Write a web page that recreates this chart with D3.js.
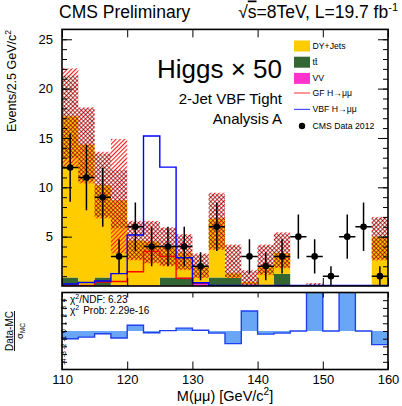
<!DOCTYPE html>
<html>
<head>
<meta charset="utf-8">
<script src="https://cdn.jsdelivr.net/npm/d3@7"></script>
<style>
  body { margin: 0; background: #fff; }
  svg { display: block; }
  text { font-family: "Liberation Sans", Arial, Helvetica, sans-serif; }
</style>
</head>
<body>
<svg id="chart" width="402" height="406"></svg>
<script>
// ---- binning: 20 bins of 2.5 GeV between 110 and 160 GeV ----
const massRange = [110, 160];
const binWidth = 2.5;

// ---- observed events per bin ----
const dataCounts = [12, 11, 9, 3, 6, 4, 4, 4, 2, 6, 0, 3, 2, 3, 5, 3, 1, 5, 6, 1];

// ---- background expectations (stacked: VV, ttbar, DY+Jets) ----
const vvYield   = [0.05, 0.05, 0.05, 0.1, 0.08, 0.08, 0.05, 0.05, 0.2, 0.05, 0.1, 0.15, 0.05, 0.05, 0, 0.05, 0, 0.02, 0, 0];
const ttbarYield = [0.8, 0.05, 0.8, 0, 0, 0, 0.8, 0.8, 0.2, 0.8, 0.7, 0, 0, 1.2, 0, 0, 0, 0, 0, 0];
const dyYield   = [16.35, 14.25, 9.35, 8.6, 4.52, 4.42, 3.15, 2.55, 1.6, 6.0, 0.5, 0.25, 1.95, 2.1, 0, 0, 0, 0, 0, 5.0];

// ---- MC uncertainty bands (outer: total, inner: statistical) ----
const bandOuterLo = [12.1, 10.4, 6.85, 3.3, 2.6, 2.3, 2.0, 1.6, 0.8, 3.65, 0.8, 0, 1.1, 1.8, 0, 0, 0, 0, 0, 2.6];
const bandOuterHi = [22.05, 18.1, 13.6, 14.9, 6.6, 6.6, 5.95, 5.25, 3.3, 9.45, 4.2, 1.6, 4.2, 5.44, 0, 0.3, 0, 0.1, 0, 7.0];
const bandInnerLo = [13.0, 10.6, 7.0, 5.85, 2.7, 2.4, 2.1, 1.7, 0.9, 3.8, 0.9, 0.05, 1.2, 1.9, 0, 0, 0, 0, 0, 2.7];
const bandInnerHi = [21.3, 18.0, 13.4, 11.75, 6.5, 6.5, 5.85, 5.15, 3.2, 9.3, 4.1, 1.5, 4.1, 5.3, 0, 0.25, 0, 0.08, 0, 6.9];

// ---- Higgs signal templates (scaled x50) ----
const ggfSignal = [0.05, 0.05, 0.4, 0.45, 1.45, 3.5, 3.0, 0.78, 0.3, 0.03, 0.03, 0.03, 0.03, 0.03, 0.03, 0.03, 0.03, 0.03, 0.03, 0.03];
const vbfSignal = [0.2, 0.35, 0.5, 1.25, 5.17, 15.2, 12.05, 2.87, 0.33, 0.06, 0.06, 0.06, 0.06, 0.06, 0.06, 0.06, 0.06, 0.06, 0.06, 0.06];

// ---- pull (Data-MC)/sigma_MC per bin ----
const pullValues = [-1.0, -0.8, -0.36, -0.9, 0.75, -0.23, 0.05, 0.37, 0.1, -0.27, -1.64, 2.6, -0.4, -0.27, 0, 9, 0, 9, 0, -1.77];

// ---- axis ticks ----
const yMajorTicks = [5, 10, 15, 20, 25];
const xMajorTicks = [110, 120, 130, 140, 150, 160];
const pullTicks = [4, 3, 2, 1, 0, -1, -2, -3, -4];

// ---- legend entries ----
const legendFills = [
  { label: "DY+Jets", color: "#ffcc00" },
  { label: "tt\u0304", color: "#336633" },
  { label: "VV", color: "#ff33cc" }
];
const legendLines = [
  { label: "GF H\u2192\u03bc\u03bc", color: "#ff0000" },
  { label: "VBF H\u2192\u03bc\u03bc", color: "#0000ff" }
];

const font = '"Liberation Sans", Arial, Helvetica, sans-serif';
const svg = d3.select("#chart");

const plotL = 62, plotR = 388;
const mainTop = 29.4, mainBot = 286;
const pullTop = 292.5, pullBot = 369.5;

const x = d3.scaleLinear().domain(massRange).range([plotL, plotR]);
const y = d3.scaleLinear().domain([0, 26]).range([mainBot, mainTop]);
const yp = d3.scaleLinear().domain([-5, 5]).range([pullBot, pullTop]);

const nBins = dataCounts.length;
const bins = d3.range(nBins).map(i => {
  const lo = massRange[0] + i * binWidth;
  const vv = vvYield[i], tt = ttbarYield[i], dy = dyYield[i];
  return {
    i, lo, hi: lo + binWidth, mid: lo + binWidth / 2,
    vv, tt, dy, n: dataCounts[i],
    s0: 0, s1: vv, s2: vv + tt, s3: vv + tt + dy
  };
});

// ---- patterns for the uncertainty bands ----
const defs = svg.append("defs");
const pRed = defs.append("pattern").attr("id", "hatchRed")
  .attr("patternUnits", "userSpaceOnUse").attr("width", 3).attr("height", 3)
  .attr("patternTransform", "rotate(45)");
pRed.append("rect").attr("width", 1.1).attr("height", 3).attr("fill", "#ff1a1a");
const pBlk = defs.append("pattern").attr("id", "hatchBlack")
  .attr("patternUnits", "userSpaceOnUse").attr("width", 3).attr("height", 3)
  .attr("patternTransform", "rotate(-45)");
pBlk.append("rect").attr("width", 0.9).attr("height", 3).attr("fill", "#200000").attr("opacity", 0.65);

defs.append("clipPath").attr("id", "mainClip").append("rect")
  .attr("x", plotL).attr("y", mainTop).attr("width", plotR - plotL).attr("height", mainBot - mainTop);
defs.append("clipPath").attr("id", "pullClip").append("rect")
  .attr("x", plotL).attr("y", pullTop).attr("width", plotR - plotL).attr("height", pullBot - pullTop);

// ---- main panel ----
const main = svg.append("g").attr("clip-path", "url(#mainClip)");

function stepPoints(lowerKey, upperKey) {
  const pts = [];
  bins.forEach(b => {
    pts.push({ x: b.lo, y0: b[lowerKey], y1: b[upperKey] });
    pts.push({ x: b.hi, y0: b[lowerKey], y1: b[upperKey] });
  });
  return pts;
}
const stepArea = d3.area().x(d => x(d.x)).y0(d => y(d.y0)).y1(d => y(d.y1));

const layers = [
  { lo: "s0", hi: "s1", color: "#ff33cc" },
  { lo: "s1", hi: "s2", color: "#336633" },
  { lo: "s2", hi: "s3", color: "#ffcc00" }
];
layers.forEach(l => {
  main.append("path").attr("d", stepArea(stepPoints(l.lo, l.hi))).attr("fill", l.color);
});

// uncertainty bands
function drawBand(loArr, hiArr, fill) {
  main.append("g").selectAll("rect")
    .data(bins.filter(b => hiArr[b.i] > loArr[b.i]))
    .join("rect")
    .attr("x", b => x(b.lo))
    .attr("width", b => x(b.hi) - x(b.lo))
    .attr("y", b => y(hiArr[b.i]))
    .attr("height", b => y(loArr[b.i]) - y(hiArr[b.i]))
    .attr("fill", fill);
}
drawBand(bandOuterLo, bandOuterHi, "url(#hatchRed)");
drawBand(bandInnerLo, bandInnerHi, "url(#hatchBlack)");

// signal histograms
function histLine(vals) {
  const pts = [[x(massRange[0]), y(0)]];
  bins.forEach(b => { pts.push([x(b.lo), y(vals[b.i])]); pts.push([x(b.hi), y(vals[b.i])]); });
  pts.push([x(massRange[1]), y(0)]);
  return d3.line()(pts);
}
main.append("path").attr("d", histLine(ggfSignal)).attr("fill", "none")
  .attr("stroke", "#ff0000").attr("stroke-width", 1.4);
main.append("path").attr("d", histLine(vbfSignal)).attr("fill", "none")
  .attr("stroke", "#0000ff").attr("stroke-width", 1.4);

// data points with Poisson errors
const dataBins = bins.filter(b => b.n > 0);
const dg = main.append("g");
dg.selectAll("line.v").data(dataBins).join("line").attr("class", "v")
  .attr("x1", b => x(b.mid)).attr("x2", b => x(b.mid))
  .attr("y1", b => y(b.n + Math.sqrt(b.n))).attr("y2", b => y(Math.max(0, b.n - Math.sqrt(b.n))))
  .attr("stroke", "#000").attr("stroke-width", 1.5);
dg.selectAll("line.h").data(dataBins).join("line").attr("class", "h")
  .attr("x1", b => x(b.lo)).attr("x2", b => x(b.hi))
  .attr("y1", b => y(b.n)).attr("y2", b => y(b.n))
  .attr("stroke", "#000").attr("stroke-width", 1.5);
dg.selectAll("circle").data(dataBins).join("circle")
  .attr("cx", b => x(b.mid)).attr("cy", b => y(b.n)).attr("r", 3.3).attr("fill", "#000");

// ---- main axes (ticks point inwards) ----
function styleAxis(g) {
  g.select(".domain").remove();
  g.selectAll(".tick line").attr("stroke", "#000").attr("stroke-width", 1);
  g.selectAll(".tick text").attr("fill", "#000").style("font-family", font);
}
svg.append("g").attr("transform", `translate(${plotL},0)`)
  .call(d3.axisLeft(y).tickValues(yMajorTicks).tickSizeInner(-10).tickSizeOuter(0).tickPadding(9))
  .call(styleAxis).call(g => g.selectAll(".tick text").style("font-size", "13px"));
svg.append("g").attr("transform", `translate(${plotL},0)`)
  .call(d3.axisLeft(y).tickValues(d3.range(1, 26)).tickSize(-5).tickFormat(""))
  .call(styleAxis);
svg.append("g").attr("transform", `translate(${plotR},0)`)
  .call(d3.axisRight(y).tickValues(yMajorTicks).tickSize(-10).tickFormat(""))
  .call(styleAxis);
svg.append("g").attr("transform", `translate(${plotR},0)`)
  .call(d3.axisRight(y).tickValues(d3.range(1, 26)).tickSize(-5).tickFormat(""))
  .call(styleAxis);
svg.append("g").attr("transform", `translate(0,${mainBot})`)
  .call(d3.axisBottom(x).tickValues(xMajorTicks).tickSize(-8).tickFormat(""))
  .call(styleAxis);
svg.append("g").attr("transform", `translate(0,${mainTop})`)
  .call(d3.axisTop(x).tickValues(xMajorTicks).tickSize(-8).tickFormat(""))
  .call(styleAxis);
svg.append("rect").attr("x", plotL).attr("y", mainTop).attr("width", plotR - plotL)
  .attr("height", mainBot - mainTop).attr("fill", "none").attr("stroke", "#000").attr("stroke-width", 1.6);

// ---- pull panel ----
const pull = svg.append("g").attr("clip-path", "url(#pullClip)");
const pullPts = [];
bins.forEach(b => {
  pullPts.push({ x: b.lo, v: pullValues[b.i] });
  pullPts.push({ x: b.hi, v: pullValues[b.i] });
});
pull.append("path")
  .attr("d", d3.area().x(d => x(d.x)).y0(yp(0)).y1(d => yp(d.v))(pullPts))
  .attr("fill", "#6aa6f6");
pull.append("path")
  .attr("d", d3.line().x(d => x(d.x)).y(d => yp(d.v))(
    [{ x: massRange[0], v: 0 }, ...pullPts, { x: massRange[1], v: 0 }]))
  .attr("fill", "none").attr("stroke", "#1f3ff0").attr("stroke-width", 1.4);

svg.append("g").attr("transform", `translate(${plotL},0)`)
  .call(d3.axisLeft(yp).tickValues(pullTicks).tickSize(-5).tickFormat(""))
  .call(styleAxis);
svg.append("g").attr("transform", `translate(${plotR},0)`)
  .call(d3.axisRight(yp).tickValues(pullTicks).tickSize(-5).tickFormat(""))
  .call(styleAxis);
svg.append("g").selectAll("text").data(pullTicks).join("text")
  .attr("transform", d => `translate(66,${yp(d)}) rotate(-90)`)
  .attr("text-anchor", "middle").attr("font-size", 7).attr("fill", "#000")
  .text(d => d);
svg.append("g").attr("transform", `translate(0,${pullBot})`)
  .call(d3.axisBottom(x).tickValues(xMajorTicks).tickSizeInner(-8).tickSizeOuter(0).tickPadding(5))
  .call(styleAxis).call(g => g.selectAll(".tick text").style("font-size", "13px"));
svg.append("g").attr("transform", `translate(0,${pullTop})`)
  .call(d3.axisTop(x).tickValues(xMajorTicks).tickSize(-5).tickFormat(""))
  .call(styleAxis);
svg.append("rect").attr("x", plotL).attr("y", pullTop).attr("width", plotR - plotL)
  .attr("height", pullBot - pullTop).attr("fill", "none").attr("stroke", "#000").attr("stroke-width", 1.6);

// chi2 summary
const chi = svg.append("g").attr("font-size", 10).attr("fill", "#000");
const c1 = chi.append("text").attr("x", 70).attr("y", 303);
c1.append("tspan").text("\u03c7");
c1.append("tspan").attr("dy", -4).attr("font-size", 7).text("2");
c1.append("tspan").attr("dy", 4).text("/NDF: 6.23");
const c2 = chi.append("text").attr("x", 70).attr("y", 313.5);
c2.append("tspan").text("\u03c7");
c2.append("tspan").attr("dy", -4).attr("font-size", 7).text("2");
c2.append("tspan").attr("dy", 4).attr("dx", 4).text("Prob: 2.29e-16");

// ---- titles and labels ----
svg.append("text").attr("x", 59).attr("y", 17.5).attr("font-size", 17.5).text("CMS Preliminary");
const lumi = svg.append("text").attr("x", 398).attr("y", 17.5).attr("font-size", 17.5).attr("text-anchor", "end");
lumi.append("tspan").text("\u221a");
lumi.append("tspan").attr("text-decoration", "overline").text("s");
lumi.append("tspan").text("=8TeV, L=19.7 fb");
lumi.append("tspan").attr("dy", -7).attr("font-size", 11).text("-1");

svg.append("text").attr("x", 282).attr("y", 77.5).attr("font-size", 26).attr("text-anchor", "end")
  .text("Higgs \u00d7 50");
svg.append("text").attr("x", 282).attr("y", 103.5).attr("font-size", 15).attr("text-anchor", "end")
  .text("2-Jet VBF Tight");
svg.append("text").attr("x", 282).attr("y", 123.5).attr("font-size", 15).attr("text-anchor", "end")
  .text("Analysis A");

const yTitle = svg.append("text").attr("transform", "translate(16,30) rotate(-90)")
  .attr("text-anchor", "end").attr("font-size", 12.5);
yTitle.append("tspan").text("Events/2.5 GeV/c");
yTitle.append("tspan").attr("dy", -5).attr("font-size", 8.5).text("2");

const xTitle = svg.append("text").attr("x", x(135)).attr("y", 400.5).attr("font-size", 14.5)
  .attr("text-anchor", "middle");
xTitle.append("tspan").text("M(\u03bc\u03bc) [GeV/c");
xTitle.append("tspan").attr("dy", -6).attr("font-size", 10).text("2");
xTitle.append("tspan").attr("dy", 6).text("]");

// pull axis title as a fraction
svg.append("text").attr("transform", `translate(12.5,${(pullTop + pullBot) / 2}) rotate(-90)`)
  .attr("text-anchor", "middle").attr("font-size", 10).text("Data-MC");
svg.append("line").attr("x1", 14.5).attr("x2", 14.5)
  .attr("y1", (pullTop + pullBot) / 2 - 20).attr("y2", (pullTop + pullBot) / 2 + 20)
  .attr("stroke", "#000").attr("stroke-width", 0.9);
const sig = svg.append("text").attr("transform", `translate(22.5,${(pullTop + pullBot) / 2}) rotate(-90)`)
  .attr("text-anchor", "middle").attr("font-size", 9.5);
sig.append("tspan").text("\u03c3");
sig.append("tspan").attr("dy", 2.5).attr("font-size", 6.5).text("MC");

// ---- legend ----
const leg = svg.append("g").attr("font-size", 8.7);
legendFills.forEach((e, k) => {
  const cy = 46 + k * 16.2;
  leg.append("rect").attr("x", 294).attr("y", cy - 5.5).attr("width", 16).attr("height", 11).attr("fill", e.color);
  leg.append("text").attr("x", 312.5).attr("y", cy + 3).text(e.label);
});
legendLines.forEach((e, k) => {
  const cy = 93 + k * 16.4;
  leg.append("line").attr("x1", 294).attr("x2", 310).attr("y1", cy).attr("y2", cy)
    .attr("stroke", e.color).attr("stroke-width", 1.2).attr("opacity", 0.7);
  leg.append("text").attr("x", 312.5).attr("y", cy + 3).text(e.label);
});
leg.append("circle").attr("cx", 302).attr("cy", 126).attr("r", 3.2).attr("fill", "#000");
leg.append("text").attr("x", 312.5).attr("y", 129).text("CMS Data 2012");
</script>
</body>
</html>
